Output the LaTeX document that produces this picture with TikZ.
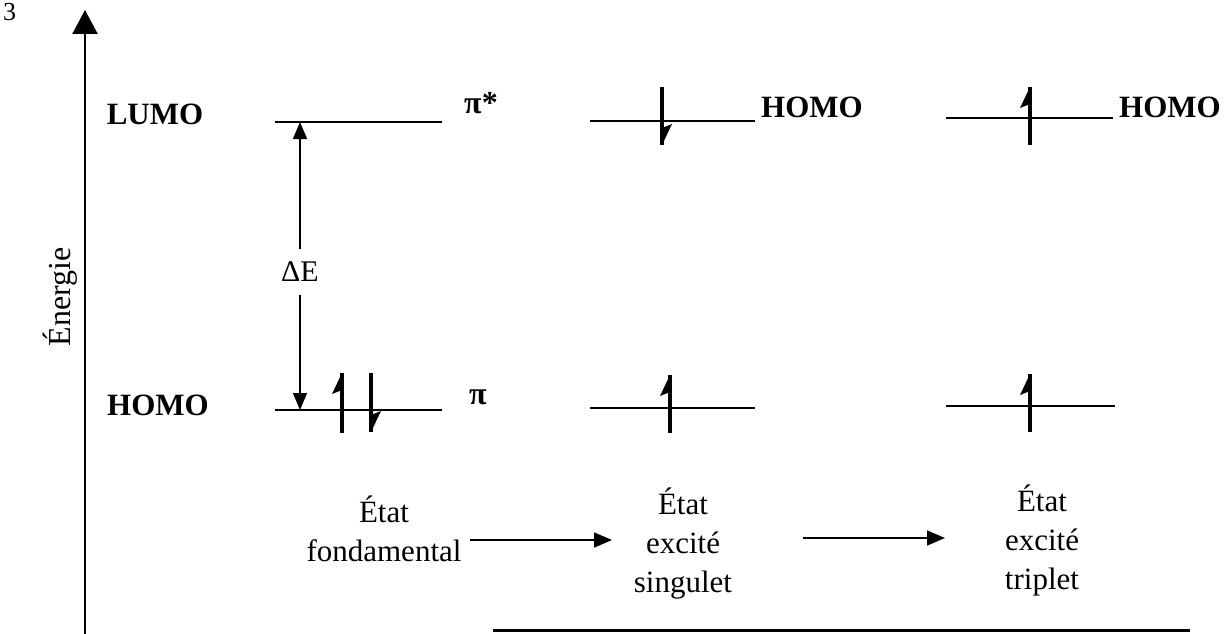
\documentclass[tikz,border=0pt]{standalone}
\usepackage{fontspec}
\setmainfont{Liberation Serif}
\usetikzlibrary{arrows.meta}
\newcommand\electronup[3]{%
  \draw[elec] (#1,#2) -- (#1,#3);
  \fill (#1,#2) -- ++(-10,21) -- ++(10,-4) -- cycle;}
\newcommand\electrondown[3]{%
  \draw[elec] (#1,#3) -- (#1,#2);
  \fill (#1,#3) -- ++(10,-21) -- ++(-10,4) -- cycle;}
\begin{document}
\begin{tikzpicture}[x=1pt,y=-1pt,
  level/.style={line width=1.8pt},
  elec/.style={line width=3.2pt},
  lbl/.style={font=\fontsize{31}{31}\selectfont\bfseries, inner sep=0pt},
  txt/.style={font=\fontsize{31}{39}\selectfont, align=center, inner sep=0pt},
  proc/.style={line width=1.6pt, -{Triangle[length=18pt,width=15pt]}},
  ]
\useasboundingbox (0,0) rectangle (1228,634);
% axes
\coordinate (ax0) at (85,634);
\coordinate (ax1) at (85,10);
\draw[line width=2.4pt, -{Triangle[length=24pt,width=25pt]}] (ax0) -- (ax1);
\coordinate (bx0) at (493,630);
\coordinate (bx1) at (1190,630);
\draw[line width=3pt] (bx0) -- (bx1);
\node[font=\fontsize{26}{26}\selectfont, inner sep=0pt, anchor=north west] (corner) at (3,3) {3};
\node[font=\fontsize{32}{32}\selectfont, rotate=90, inner sep=0pt] (energie) at (60,297) {Énergie};
% labels
\node[lbl] (lumo) at (155,114) {LUMO};
\node[lbl] (homo) at (158,405) {HOMO};
\node[lbl, font=\fontsize{32}{32}\selectfont\bfseries] (pistar) at (481,103) {π*};
\node[lbl, font=\fontsize{32}{32}\selectfont\bfseries] (pi) at (478,397) {π};
\node[lbl] (homoS) at (812,107) {HOMO};
\node[lbl] (homoT) at (1170,107) {HOMO};
% levels: ground state
\coordinate (gU1) at (275,122); \coordinate (gU2) at (442,122);
\coordinate (gL1) at (275,410); \coordinate (gL2) at (442,410);
\draw[level] (gU1) -- (gU2);
\draw[level] (gL1) -- (gL2);
% singlet
\coordinate (sU1) at (590,121); \coordinate (sU2) at (755,121);
\coordinate (sL1) at (590,408); \coordinate (sL2) at (755,408);
\draw[level] (sU1) -- (sU2);
\draw[level] (sL1) -- (sL2);
% triplet
\coordinate (tU1) at (946,118); \coordinate (tU2) at (1113,118);
\coordinate (tL1) at (946,406); \coordinate (tL2) at (1115,406);
\draw[level] (tU1) -- (tU2);
\draw[level] (tL1) -- (tL2);
% Delta E
\coordinate (dEt) at (300,122); \coordinate (dEb) at (300,410);
\draw[line width=1.5pt, {Triangle[length=17pt,width=14pt]}-{Triangle[length=17pt,width=14pt]}]
  (dEt) -- node[pos=0.52, fill=white, inner xsep=2pt, inner ysep=13pt, font=\fontsize{30}{30}\selectfont] (dE) {ΔE} (dEb);
% electrons
\electronup{342}{373}{433}
\electrondown{371}{373}{432}
\electrondown{662}{87}{145}
\electronup{670}{375}{433}
\electronup{1030}{87}{145}
\electronup{1030}{374}{432}
% bottom texts
\node[txt] (s0) at (384,529) {État\\fondamental};
\node[txt] (s1) at (683,544) {État\\excité\\singulet};
\node[txt] (s2) at (1042,540) {État\\excité\\triplet};
\coordinate (a1s) at (470,540); \coordinate (a1e) at (612,540);
\coordinate (a2s) at (803,538); \coordinate (a2e) at (945,538);
\draw[proc] (a1s) -- (a1e);
\draw[proc] (a2s) -- (a2e);
\end{tikzpicture}
\end{document}
